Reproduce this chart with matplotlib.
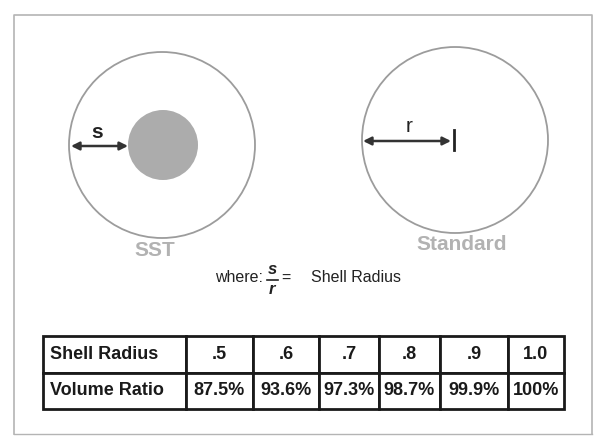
import matplotlib
matplotlib.use('Agg')
import matplotlib.pyplot as plt
from matplotlib.patches import Circle

plt.rcParams['font.family'] = ['Liberation Sans', 'DejaVu Sans']

# table data
row_labels = ['Shell Radius', 'Volume Ratio']
shell_radius = ['.5', '.6', '.7', '.8', '.9', '1.0']
volume_ratio = ['87.5%', '93.6%', '97.3%', '98.7%', '99.9%', '100%']

# diagram labels
left_label = 'SST'
right_label = 'Standard'

W, H = 595, 440
fig = plt.figure(figsize=(W / 100, H / 100), dpi=100)
ax = fig.add_axes([0, 0, 1, 1])
ax.set_xlim(0, W)
ax.set_ylim(H, 0)
ax.axis('off')

# outer frame
frame_c = '#b4b4b4'
ax.plot([14, 14, 592, 592], [434, 15, 15, 434], color=frame_c, lw=1.2)
ax.plot([14, 592], [434, 434], color=frame_c, lw=1.0)

circ_c = '#9c9c9c'
dark = '#222222'
# SST circle with shell
ax.add_patch(Circle((162, 145), 93, fill=False, ec=circ_c, lw=1.3))
ax.add_patch(Circle((163, 145), 35, fc='#acacac', ec='none'))
ax.annotate('', xy=(71, 146), xytext=(128, 146),
            arrowprops=dict(arrowstyle='<|-|>', color='#333333', lw=1.8,
                            mutation_scale=12, shrinkA=0, shrinkB=0))
ax.text(97, 133, 's', fontsize=15, fontweight='bold', ha='center', va='center', color=dark)

# standard circle
ax.add_patch(Circle((455, 140), 93, fill=False, ec=circ_c, lw=1.3))
ax.annotate('', xy=(363, 141), xytext=(451, 141),
            arrowprops=dict(arrowstyle='<|-|>', color='#333333', lw=1.8,
                            mutation_scale=12, shrinkA=0, shrinkB=0))
ax.plot([454, 454], [130, 150], color=dark, lw=2)
ax.text(409, 126, 'r', fontsize=15, ha='center', va='center', color=dark)

lab_c = '#b2b2b2'
ax.text(155, 251, left_label, fontsize=15, fontweight='bold', ha='center', va='center', color=lab_c)
ax.text(462, 245, right_label, fontsize=15, fontweight='bold', ha='center', va='center', color=lab_c)

# formula line
ax.text(263, 278, 'where:', fontsize=11.5, ha='right', va='center', color=dark)
ax.text(272, 270, 's', fontsize=12, style='italic', fontweight='bold', ha='center', va='center', color=dark)
ax.plot([267, 278], [280, 280], color=dark, lw=1.2)
ax.text(272, 290, 'r', fontsize=12, style='italic', fontweight='bold', ha='center', va='center', color=dark)
ax.text(286, 278, '=', fontsize=11.5, ha='center', va='center', color=dark)
ax.text(311, 278, 'Shell Radius', fontsize=11.5, ha='left', va='center', color=dark)

# table
col_px = [43, 186, 253, 319, 379, 440, 508, 564]
widths = [col_px[i + 1] - col_px[i] for i in range(len(col_px) - 1)]
cells = [[row_labels[0]] + shell_radius, [row_labels[1]] + volume_ratio]
top, bottom = 336, 409
tbl = ax.table(cellText=cells, cellLoc='center', colWidths=widths,
               bbox=[col_px[0] / W, 1 - bottom / H, (col_px[-1] - col_px[0]) / W, (bottom - top) / H])
tbl.auto_set_font_size(False)
for (r, c), cell in tbl.get_celld().items():
    cell.set_linewidth(2)
    cell.set_edgecolor('#1a1a1a')
    cell.get_text().set_fontsize(13)
    cell.get_text().set_fontweight('bold')
    cell.get_text().set_color('#1a1a1a')
    if c == 0:
        cell.get_text().set_ha('left')
        cell.PAD = 0.05

fig.savefig('out.png', dpi=100, facecolor='white')
